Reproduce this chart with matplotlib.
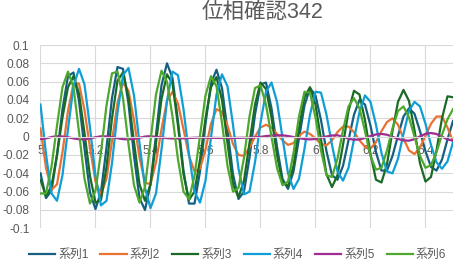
import numpy as np
import matplotlib
matplotlib.use('Agg')
import matplotlib.pyplot as plt

plt.rcParams['font.family'] = ['Liberation Sans', 'Noto Sans CJK JP', 'DejaVu Sans']

# time axis (sampled every 0.02)
x_start = 5.0
x_step = 0.02
n_pts = 76
x = np.round(x_start + x_step*np.arange(n_pts), 2)

s1 = [-0.040, -0.067, -0.059, -0.020, 0.030, 0.066, 0.070, 0.039, -0.013, -0.061,
      -0.079, -0.060, -0.012, 0.042, 0.076, 0.074, 0.036, -0.021, -0.067, -0.080,
      -0.052, 0.002, 0.056, 0.080, 0.064, 0.017, -0.037, -0.073, -0.073, -0.038,
      0.014, 0.058, 0.073, 0.053, 0.007, -0.041, -0.068, -0.060, -0.023, 0.024,
      0.057, 0.059, 0.031, -0.011, -0.046, -0.057, -0.038, -0.002, 0.034, 0.053,
      0.045, 0.018, -0.016, -0.042, -0.047, -0.032, -0.004, 0.024, 0.040, 0.035,
      0.012, -0.017, -0.037, -0.037, -0.021, 0.001, 0.022, 0.031, 0.025, 0.006,
      -0.016, -0.033, -0.037, -0.025, -0.003, 0.017]
s2 = [0.009, -0.034, -0.058, -0.052, -0.017, 0.028, 0.058, 0.058, 0.029, -0.012,
      -0.049, -0.063, -0.046, -0.005, 0.037, 0.059, 0.050, 0.018, -0.023, -0.050,
      -0.052, -0.028, 0.008, 0.039, 0.049, 0.036, 0.008, -0.021, -0.038, -0.035,
      -0.014, 0.014, 0.030, 0.027, 0.012, -0.008, -0.020, -0.021, -0.012, 0.000,
      0.010, 0.013, 0.010, 0.003, -0.004, -0.009, -0.007, 0.001, 0.0055, 0.003,
      -0.002, -0.008, -0.0095, -0.004, 0.005, 0.011, 0.011, 0.005, -0.004, -0.011,
      -0.013, -0.006, 0.006, 0.016, 0.020, 0.013, -0.002, -0.015, -0.019, -0.012,
      0.001, 0.014, 0.022, 0.022, 0.010, -0.005]
s3 = [-0.047, -0.065, -0.054, -0.020, 0.021, 0.054, 0.066, 0.047, 0.004, -0.043,
      -0.072, -0.069, -0.033, 0.020, 0.061, 0.070, 0.043, -0.006, -0.052, -0.070,
      -0.052, -0.007, 0.041, 0.068, 0.058, 0.012, -0.041, -0.069, -0.060, -0.025,
      0.020, 0.054, 0.065, 0.040, -0.007, -0.052, -0.066, -0.048, -0.007, 0.035,
      0.059, 0.052, 0.021, -0.020, -0.050, -0.054, -0.032, 0.009, 0.043, 0.054,
      0.035, -0.003, -0.041, -0.055, -0.042, -0.009, 0.028, 0.050, 0.046, 0.018,
      -0.019, -0.047, -0.050, -0.030, 0.006, 0.038, 0.051, 0.039, 0.007, -0.029,
      -0.049, -0.044, -0.015, 0.020, 0.044, 0.043]
s4 = [0.035, -0.019, -0.062, -0.070, -0.042, 0.008, 0.055, 0.074, 0.057, 0.010,
      -0.043, -0.075, -0.070, -0.029, 0.026, 0.067, 0.075, 0.045, -0.007, -0.056,
      -0.078, -0.062, -0.014, 0.039, 0.071, 0.067, 0.030, -0.019, -0.060, -0.072,
      -0.048, -0.001, 0.046, 0.068, 0.055, 0.013, -0.035, -0.063, -0.060, -0.028,
      0.015, 0.049, 0.059, 0.038, -0.001, -0.040, -0.057, -0.046, -0.013, 0.024,
      0.049, 0.048, 0.024, -0.009, -0.038, -0.048, -0.034, -0.003, 0.027, 0.045,
      0.038, 0.013, -0.018, -0.038, -0.040, -0.024, 0.003, 0.028, 0.038, 0.033,
      0.014, -0.009, -0.028, -0.035, -0.027, -0.006]
s5 = [-0.0025, -0.0019, -0.0004, 0.0005, 0.0002, -0.0007, -0.0019, -0.0028, -0.0030, -0.0020,
      -0.0006, 0.0004, 0.0003, -0.0005, -0.0017, -0.0027, -0.0030, -0.0024, -0.0012, 0.0001,
      0.0005, -0.0003, -0.0010, -0.0016, -0.0020, -0.0020, -0.0018, -0.0015, -0.0012, -0.0010,
      -0.0011, -0.0013, -0.0014, -0.0015, -0.0015, -0.0014, -0.0013, -0.0012, -0.0012, -0.0008,
      -0.0002, 0.0006, 0.0012, 0.0015, 0.0015, 0.0007, -0.0004, -0.0017, -0.0026, -0.0030,
      -0.0025, -0.0013, 0.0002, 0.0013, 0.0015, 0.0000, -0.0022, -0.0034, -0.0031, -0.0014,
      0.0007, 0.0024, 0.0030, 0.0021, -0.0001, -0.0025, -0.0041, -0.0044, -0.0027, 0.0003,
      0.0031, 0.0040, 0.0029, 0.0000, -0.0030, -0.0045]
s6 = [-0.062, -0.062, -0.033, 0.012, 0.054, 0.071, 0.054, 0.005, -0.046, -0.073,
      -0.059, -0.017, 0.034, 0.069, 0.071, 0.042, -0.008, -0.053, -0.072, -0.055,
      -0.005, 0.046, 0.072, 0.060, 0.022, -0.025, -0.060, -0.068, -0.043, 0.001,
      0.045, 0.066, 0.055, 0.015, -0.032, -0.060, -0.056, -0.023, 0.022, 0.053,
      0.056, 0.035, 0.000, -0.034, -0.053, -0.049, -0.018, 0.022, 0.049, 0.048,
      0.021, -0.015, -0.042, -0.044, -0.024, 0.007, 0.033, 0.042, 0.031, 0.006,
      -0.021, -0.036, -0.034, -0.015, 0.009, 0.028, 0.033, 0.021, 0.000, -0.021,
      -0.034, -0.031, -0.017, 0.002, 0.019, 0.030]

series = [s1, s2, s3, s4, s5, s6]
names = ['系列1', '系列2', '系列3', '系列4', '系列5', '系列6']
colors = ['#156082', '#E97132', '#196B24', '#0F9ED5', '#A02B93', '#4EA72E']

xticks = [5, 5.2, 5.4, 5.6, 5.8, 6, 6.2, 6.4]
yticks = [-0.1, -0.08, -0.06, -0.04, -0.02, 0, 0.02, 0.04, 0.06, 0.08, 0.1]
title = '位相確認342'

grid_c = '#D9D9D9'
text_c = '#595959'

fig = plt.figure(figsize=(4.56, 2.66), dpi=100)
ax = fig.add_axes([0.0888, 0.1417, 0.9046, 0.6891])

for s, n, c in zip(series, names, colors):
    ax.plot(x, s, color=c, lw=1.6, label=n, solid_joinstyle='round')

ax.set_xlim(5, 6.5)
ax.set_ylim(-0.1, 0.1)
ax.set_xticks(xticks)
ax.set_xticklabels([f'{v:g}' for v in xticks])
ax.set_yticks(yticks)
ax.set_yticklabels([f'{v:g}' for v in yticks])
ax.grid(True, color=grid_c, lw=0.8)
ax.set_axisbelow(True)
for sp in ['top', 'right', 'left']:
    ax.spines[sp].set_visible(False)
ax.spines['bottom'].set_position(('data', 0))
ax.spines['bottom'].set_color(grid_c)
ax.spines['bottom'].set_linewidth(0.8)
ax.tick_params(axis='both', length=0, labelsize=8.6, labelcolor=text_c)
ax.tick_params(axis='x', pad=6)
ax.tick_params(axis='y', pad=8)

fig.text(0.575, 1 - 12/266, title, ha='center', va='center', fontsize=15.5, color=text_c)

fig.legend(loc='center', bbox_to_anchor=(0.521, 0.041), ncol=6, frameon=False,
           fontsize=8.6, labelcolor=text_c, handlelength=2.2, handletextpad=0.25,
           columnspacing=1.0, borderpad=0)

fig.savefig('out.png', dpi=100)
